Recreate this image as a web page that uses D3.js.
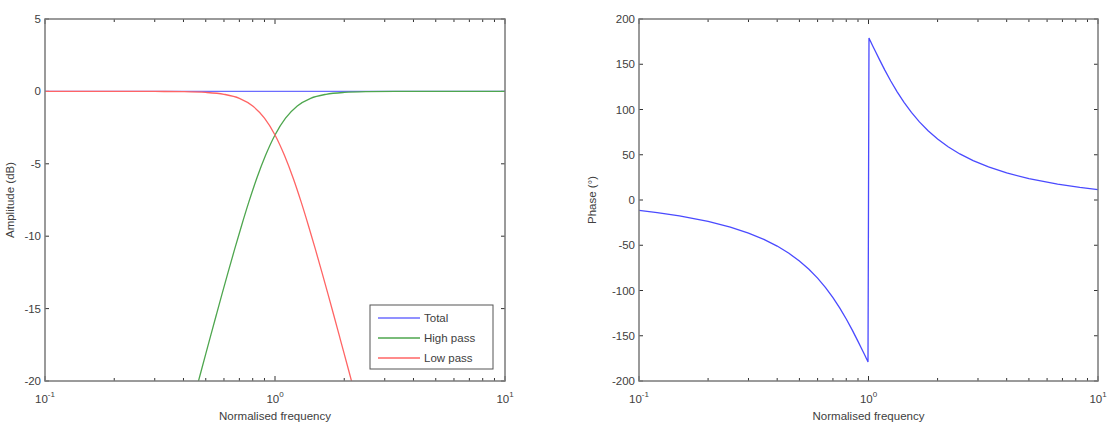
<!DOCTYPE html>
<html>
<head>
<meta charset="utf-8">
<script src="https://cdn.jsdelivr.net/npm/d3@7"></script>
<style>
  body { margin: 0; background: #fff; }
  svg { display: block; font-family: "Liberation Sans", Arial, sans-serif; }
</style>
</head>
<body>
<div id="chart"></div>
<script>
// Amplitude data
const freqTotal = [0.1, 1, 10];
const totalDb = [0, 0, 0];

const freqHP = [0.4545, 0.4762, 0.5, 0.5263, 0.5556, 0.5882, 0.625, 0.6667, 0.7143, 0.7692, 0.8333, 0.9091, 1, 1.1111, 1.25, 1.4286, 1.6667, 2, 2.5, 3.3333, 5, 10];
const highPassDb = [-20.58, -19.38, -18.13, -16.82, -15.44, -14.0, -12.5, -10.93, -9.31, -7.65, -6.0, -4.43, -3.01, -1.85, -1.01, -0.48, -0.2, -0.07, -0.02, -0.003, 0, 0];

const freqLP = [0.1, 0.2, 0.3, 0.4, 0.5, 0.6, 0.7, 0.8, 0.9, 1.0, 1.1, 1.2, 1.3, 1.4, 1.5, 1.6, 1.7, 1.8, 1.9, 2.0, 2.1, 2.2];
const lowPassDb = [0, 0, -0.003, -0.02, -0.07, -0.2, -0.48, -1.01, -1.85, -3.01, -4.43, -6.0, -7.65, -9.31, -10.93, -12.5, -14.0, -15.44, -16.82, -18.13, -19.38, -20.58];

// Phase data
const freqPhase = [0.1, 0.12, 0.15, 0.2, 0.25, 0.3, 0.35, 0.4, 0.45, 0.5, 0.55, 0.6, 0.65, 0.7, 0.75, 0.8, 0.85, 0.9, 0.93, 0.95, 0.97, 0.98, 0.99, 0.995,
                   1,
                   1.005, 1.0101, 1.0204, 1.0309, 1.0526, 1.0753, 1.1111, 1.1765, 1.25, 1.3333, 1.4286, 1.5385, 1.6667, 1.8182, 2, 2.2222, 2.5, 2.8571, 3.3333, 4, 5, 6.6667, 8.3333, 10];
const phaseDeg = [-11.5, -13.9, -17.5, -23.5, -29.9, -36.5, -43.5, -50.9, -58.9, -67.4, -76.5, -86.3, -96.8, -107.9, -119.5, -131.5, -143.8, -156.2, -163.5, -168.3, -173.0, -175.4, -177.7, -178.9,
                  0,
                  178.9, 177.7, 175.4, 173.0, 168.3, 163.5, 156.2, 143.8, 131.5, 119.5, 107.9, 96.8, 86.3, 76.5, 67.4, 58.9, 50.9, 43.5, 36.5, 29.9, 23.5, 17.5, 13.9, 11.5];

const ampTicks = [5, 0, -5, -10, -15, -20];
const phaseTicks = [200, 150, 100, 50, 0, -50, -100, -150, -200];
const decadeTicks = [0.1, 1, 10];
const decadeLabels = ["-1", "0", "1"];

const series = [
  { name: "Total", x: freqTotal, y: totalDb, color: "#6c6cff" },
  { name: "High pass", x: freqHP, y: highPassDb, color: "#4ea64e" },
  { name: "Low pass", x: freqLP, y: lowPassDb, color: "#ff6464" }
];

const W = 1111, H = 437;
const svg = d3.select("#chart").append("svg").attr("width", W).attr("height", H);

const axisColor = "#7a7a7a";
const textColor = "#404040";
const plotTop = 19, plotBottom = 381;

function drawPanel(id, left, right, yDomain, yTicks, yLabel, labelOffset, lines) {
  const x = d3.scaleLog().domain([0.1, 10]).range([left, right]);
  const y = d3.scaleLinear().domain(yDomain).range([plotBottom, plotTop]);

  const g = svg.append("g");

  g.append("clipPath").attr("id", "clip-" + id)
    .append("rect").attr("x", left).attr("y", plotTop).attr("width", right - left).attr("height", plotBottom - plotTop);

  // minor + major ticks on x (bottom and top, pointing inwards)
  const minor = [];
  [0.1, 1].forEach(d => { for (let k = 2; k <= 9; k++) minor.push(d * k); });
  const allX = decadeTicks.concat(minor);
  allX.forEach(v => {
    const len = decadeTicks.includes(v) ? 5 : 3;
    g.append("line").attr("x1", x(v)).attr("x2", x(v)).attr("y1", plotBottom).attr("y2", plotBottom - len)
      .attr("stroke", "#333").attr("stroke-width", 1);
    g.append("line").attr("x1", x(v)).attr("x2", x(v)).attr("y1", plotTop).attr("y2", plotTop + len)
      .attr("stroke", "#333").attr("stroke-width", 1);
  });

  // y ticks (left and right)
  yTicks.forEach(v => {
    g.append("line").attr("x1", left).attr("x2", left + 4).attr("y1", y(v)).attr("y2", y(v)).attr("stroke", "#333");
    g.append("line").attr("x1", right).attr("x2", right - 4).attr("y1", y(v)).attr("y2", y(v)).attr("stroke", "#333");
    g.append("text").attr("x", left - 4).attr("y", y(v) + 4).attr("text-anchor", "end")
      .attr("font-size", 11.5).attr("fill", textColor).text(v);
  });

  // x tick labels 10^n
  decadeTicks.forEach((v, i) => {
    const t = g.append("text").attr("x", x(v)).attr("y", 403).attr("text-anchor", "middle")
      .attr("font-size", 11.5).attr("fill", textColor);
    t.append("tspan").text("10");
    t.append("tspan").attr("dy", -6).attr("font-size", 8).text(decadeLabels[i]);
  });

  // lines
  lines.forEach(s => {
    const line = d3.line().x(d => x(d[0])).y(d => y(d[1])).curve(s.curve || d3.curveMonotoneX);
    g.append("path")
      .datum(s.x.map((v, i) => [v, s.y[i]]))
      .attr("clip-path", `url(#clip-${id})`)
      .attr("fill", "none")
      .attr("stroke", s.color)
      .attr("stroke-width", 1.3)
      .attr("d", line);
  });

  // box
  g.append("rect").attr("x", left).attr("y", plotTop).attr("width", right - left).attr("height", plotBottom - plotTop)
    .attr("fill", "none").attr("stroke", axisColor).attr("stroke-width", 1.5);

  // labels
  g.append("text").attr("x", (left + right) / 2).attr("y", 420).attr("text-anchor", "middle")
    .attr("font-size", 11.5).attr("fill", textColor).text("Normalised frequency");
  g.append("text").attr("transform", `translate(${left - labelOffset},${(plotTop + plotBottom) / 2}) rotate(-90)`)
    .attr("text-anchor", "middle").attr("font-size", 11.5).attr("fill", textColor).text(yLabel);

  return { g, x, y };
}

drawPanel("amp", 45, 505, [-20, 5], ampTicks, "Amplitude (dB)", 31, series);
drawPanel("phase", 639, 1098, [-200, 200], phaseTicks, "Phase (°)", 43,
  [{ name: "Phase", x: freqPhase, y: phaseDeg, color: "#4a4aff", curve: d3.curveLinear }]);

// Legend
const legend = svg.append("g").attr("transform", "translate(370,305)");
legend.append("rect").attr("width", 123).attr("height", 64)
  .attr("fill", "#fff").attr("stroke", "#555").attr("stroke-width", 1);
series.forEach((s, i) => {
  const yy = 13 + i * 20;
  legend.append("line").attr("x1", 8).attr("x2", 50).attr("y1", yy).attr("y2", yy)
    .attr("stroke", s.color).attr("stroke-width", 1.3);
  legend.append("text").attr("x", 54).attr("y", yy + 4).attr("font-size", 11.5)
    .attr("fill", textColor).text(s.name);
});
</script>
</body>
</html>
